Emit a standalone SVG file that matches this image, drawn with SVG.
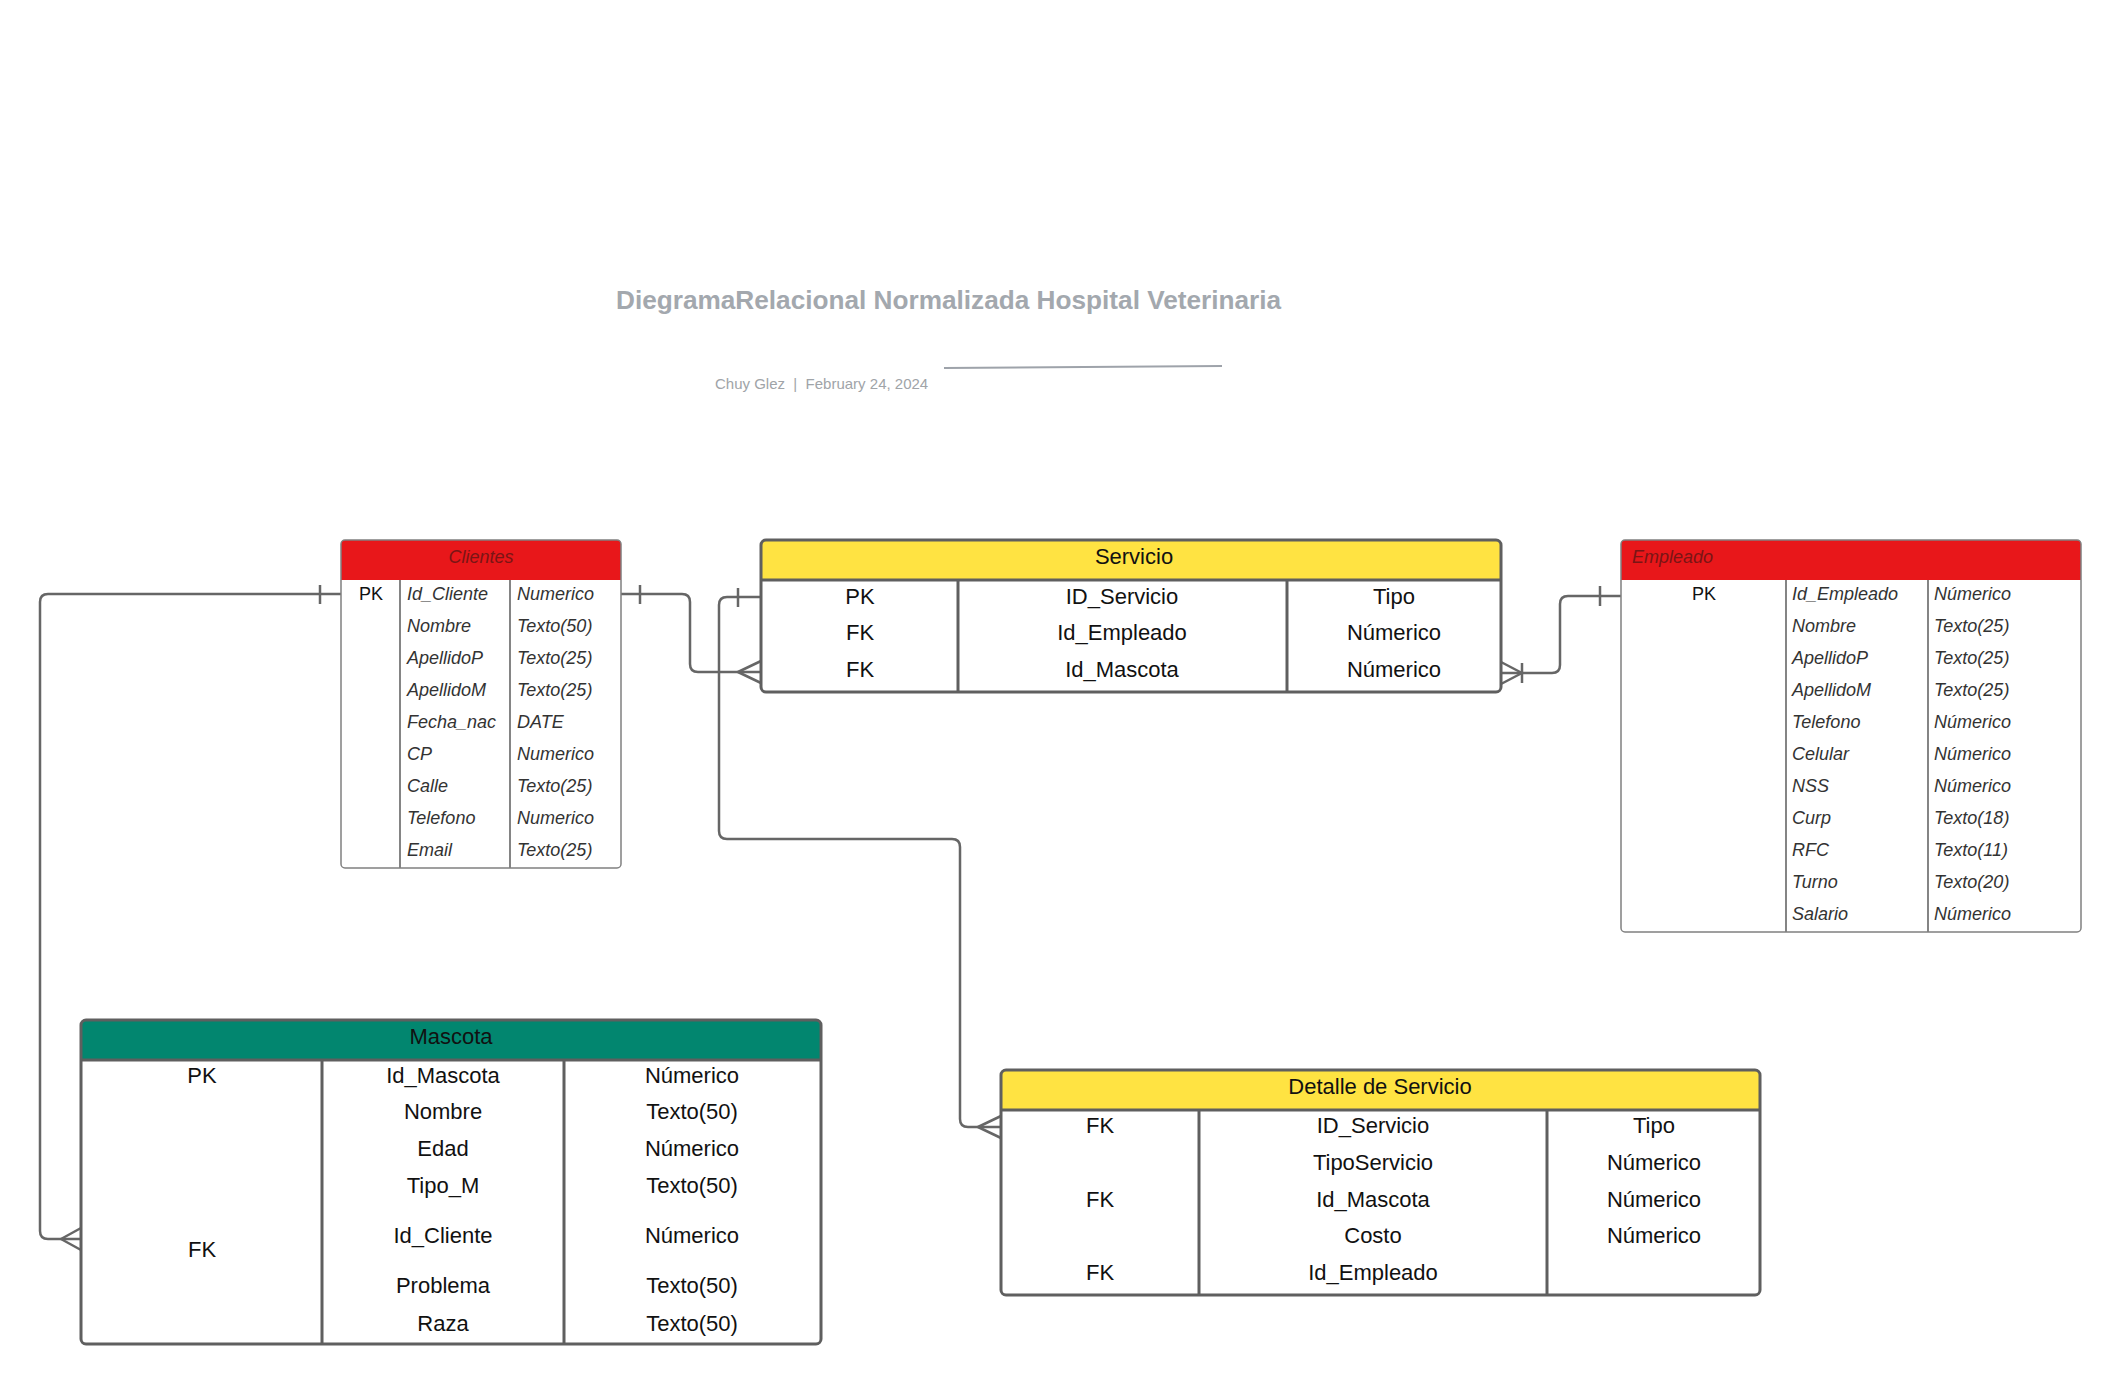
<svg xmlns="http://www.w3.org/2000/svg" width="2122" height="1385" viewBox="0 0 2122 1385">
<style>
text{font-family:"Liberation Sans",Arial,sans-serif}
.title{font-size:26.2px;font-weight:bold;fill:#a3a8ae}
.sub{font-size:15px;fill:#a0a4a8}
.it{font-size:18px;font-style:italic;fill:#333}
.pk{font-size:18px;fill:#111}
.hdr-r{font-size:18px;font-style:italic;fill:#7a1515}
.big{font-size:22px;fill:#111;text-anchor:middle}
.thin{fill:none;stroke:#808080;stroke-width:1.5}
.thindiv{stroke:#333;stroke-width:1.2}
.thick{fill:none;stroke:#5f5f5f;stroke-width:3}
.thickdiv{stroke:#5f5f5f;stroke-width:3}
.red{fill:#e8171a}
.yel{fill:#ffe342}
.grn{fill:#02866f}
.conn{fill:none;stroke:#666;stroke-width:2.5;stroke-linejoin:round}
</style>
<g id="title">
<text class="title" x="616" y="309">DiegramaRelacional Normalizada Hospital Veterinaria</text>
<text class="sub" x="715" y="389" xml:space="preserve">Chuy Glez  |  February 24, 2024</text>
<line x1="944" y1="368" x2="1222" y2="366" stroke="#9ea3aa" stroke-width="2"/>
</g>
<g id="connectors">
<path class="conn" d="M341,594 H48 Q40,594 40,602 V1231 Q40,1239 48,1239 H81"/>
<path class="conn" d="M320,585 V604"/>
<path class="conn" d="M81,1228 L61,1239 L81,1250"/>
<path class="conn" d="M621,594 H682 Q690,594 690,602 V664 Q690,672 698,672 H761"/>
<path class="conn" d="M640,585 V604"/>
<path class="conn" d="M761,661 L738,672 L761,683"/>
<path class="conn" d="M761,597 H727 Q719,597 719,605 V831 Q719,839 727,839 H952 Q960,839 960,847 V1119 Q960,1127 968,1127 H1001"/>
<path class="conn" d="M738,588 V607"/>
<path class="conn" d="M1001,1116 L978,1127 L1001,1138"/>
<path class="conn" d="M1501,673 H1552 Q1560,673 1560,665 V604 Q1560,596 1568,596 H1621"/>
<path class="conn" d="M1600,586 V606"/>
<path class="conn" d="M1501,662 L1522,673 L1501,684"/>
<path class="conn" d="M1522,663 V683"/>
</g>
<g id="clientes">
<rect x="341" y="540" width="280" height="328" rx="4" fill="#fff"/>
<path class="red" d="M341,580 V544 Q341,540 345,540 H617 Q621,540 621,544 V580 Z"/>
<line class="thindiv" x1="400" y1="580" x2="400" y2="868"/>
<line class="thindiv" x1="510" y1="580" x2="510" y2="868"/>
<rect class="thin" x="341" y="540" width="280" height="328" rx="4"/>
<text class="hdr-r" x="481" y="563" text-anchor="middle">Clientes</text>
<text class="pk" x="371" y="600" text-anchor="middle">PK</text>
<text class="it" x="407" y="600">Id_Cliente</text><text class="it" x="517" y="600">Numerico</text>
<text class="it" x="407" y="632">Nombre</text><text class="it" x="517" y="632">Texto(50)</text>
<text class="it" x="407" y="664">ApellidoP</text><text class="it" x="517" y="664">Texto(25)</text>
<text class="it" x="407" y="696">ApellidoM</text><text class="it" x="517" y="696">Texto(25)</text>
<text class="it" x="407" y="728">Fecha_nac</text><text class="it" x="517" y="728">DATE</text>
<text class="it" x="407" y="760">CP</text><text class="it" x="517" y="760">Numerico</text>
<text class="it" x="407" y="792">Calle</text><text class="it" x="517" y="792">Texto(25)</text>
<text class="it" x="407" y="824">Telefono</text><text class="it" x="517" y="824">Numerico</text>
<text class="it" x="407" y="856">Email</text><text class="it" x="517" y="856">Texto(25)</text>
</g>
<g id="empleado">
<rect x="1621" y="540" width="460" height="392" rx="4" fill="#fff"/>
<path class="red" d="M1621,580 V544 Q1621,540 1625,540 H2077 Q2081,540 2081,544 V580 Z"/>
<line class="thindiv" x1="1786" y1="580" x2="1786" y2="932"/>
<line class="thindiv" x1="1928" y1="580" x2="1928" y2="932"/>
<rect class="thin" x="1621" y="540" width="460" height="392" rx="4"/>
<text class="hdr-r" x="1632" y="563">Empleado</text>
<text class="pk" x="1704" y="600" text-anchor="middle">PK</text>
<text class="it" x="1792" y="600">Id_Empleado</text><text class="it" x="1934" y="600">Númerico</text>
<text class="it" x="1792" y="632">Nombre</text><text class="it" x="1934" y="632">Texto(25)</text>
<text class="it" x="1792" y="664">ApellidoP</text><text class="it" x="1934" y="664">Texto(25)</text>
<text class="it" x="1792" y="696">ApellidoM</text><text class="it" x="1934" y="696">Texto(25)</text>
<text class="it" x="1792" y="728">Telefono</text><text class="it" x="1934" y="728">Númerico</text>
<text class="it" x="1792" y="760">Celular</text><text class="it" x="1934" y="760">Númerico</text>
<text class="it" x="1792" y="792">NSS</text><text class="it" x="1934" y="792">Númerico</text>
<text class="it" x="1792" y="824">Curp</text><text class="it" x="1934" y="824">Texto(18)</text>
<text class="it" x="1792" y="856">RFC</text><text class="it" x="1934" y="856">Texto(11)</text>
<text class="it" x="1792" y="888">Turno</text><text class="it" x="1934" y="888">Texto(20)</text>
<text class="it" x="1792" y="920">Salario</text><text class="it" x="1934" y="920">Númerico</text>
</g>
<g id="servicio">
<rect x="761" y="540" width="740" height="152" rx="5" fill="#fff"/>
<path class="yel" d="M761,580 V545 Q761,540 766,540 H1496 Q1501,540 1501,545 V580 Z"/>
<line class="thickdiv" x1="761" y1="580" x2="1501" y2="580"/>
<line class="thickdiv" x1="958" y1="580" x2="958" y2="692"/>
<line class="thickdiv" x1="1287" y1="580" x2="1287" y2="692"/>
<rect class="thick" x="761" y="540" width="740" height="152" rx="5"/>
<text class="big" x="1134" y="564">Servicio</text>
<text class="big" x="860" y="604">PK</text><text class="big" x="1122" y="604">ID_Servicio</text><text class="big" x="1394" y="604">Tipo</text>
<text class="big" x="860" y="640">FK</text><text class="big" x="1122" y="640">Id_Empleado</text><text class="big" x="1394" y="640">Númerico</text>
<text class="big" x="860" y="677">FK</text><text class="big" x="1122" y="677">Id_Mascota</text><text class="big" x="1394" y="677">Númerico</text>
</g>
<g id="mascota">
<rect x="81" y="1020" width="740" height="324" rx="5" fill="#fff"/>
<path class="grn" d="M81,1060 V1025 Q81,1020 86,1020 H816 Q821,1020 821,1025 V1060 Z"/>
<line class="thickdiv" x1="81" y1="1060" x2="821" y2="1060"/>
<line class="thickdiv" x1="322" y1="1060" x2="322" y2="1344"/>
<line class="thickdiv" x1="564" y1="1060" x2="564" y2="1344"/>
<rect class="thick" x="81" y="1020" width="740" height="324" rx="5"/>
<text class="big" x="451" y="1044">Mascota</text>
<text class="big" x="202" y="1083">PK</text><text class="big" x="443" y="1083">Id_Mascota</text><text class="big" x="692" y="1083">Númerico</text>
<text class="big" x="443" y="1119">Nombre</text><text class="big" x="692" y="1119">Texto(50)</text>
<text class="big" x="443" y="1156">Edad</text><text class="big" x="692" y="1156">Númerico</text>
<text class="big" x="443" y="1193">Tipo_M</text><text class="big" x="692" y="1193">Texto(50)</text>
<text class="big" x="202" y="1257">FK</text>
<text class="big" x="443" y="1243">Id_Cliente</text><text class="big" x="692" y="1243">Númerico</text>
<text class="big" x="443" y="1293">Problema</text><text class="big" x="692" y="1293">Texto(50)</text>
<text class="big" x="443" y="1331">Raza</text><text class="big" x="692" y="1331">Texto(50)</text>
</g>
<g id="detalle">
<rect x="1001" y="1070" width="759" height="225" rx="5" fill="#fff"/>
<path class="yel" d="M1001,1110 V1075 Q1001,1070 1006,1070 H1755 Q1760,1070 1760,1075 V1110 Z"/>
<line class="thickdiv" x1="1001" y1="1110" x2="1760" y2="1110"/>
<line class="thickdiv" x1="1199" y1="1110" x2="1199" y2="1295"/>
<line class="thickdiv" x1="1547" y1="1110" x2="1547" y2="1295"/>
<rect class="thick" x="1001" y="1070" width="759" height="225" rx="5"/>
<text class="big" x="1380" y="1094">Detalle de Servicio</text>
<text class="big" x="1100" y="1133">FK</text><text class="big" x="1373" y="1133">ID_Servicio</text><text class="big" x="1654" y="1133">Tipo</text>
<text class="big" x="1373" y="1170">TipoServicio</text><text class="big" x="1654" y="1170">Númerico</text>
<text class="big" x="1100" y="1207">FK</text><text class="big" x="1373" y="1207">Id_Mascota</text><text class="big" x="1654" y="1207">Númerico</text>
<text class="big" x="1373" y="1243">Costo</text><text class="big" x="1654" y="1243">Númerico</text>
<text class="big" x="1100" y="1280">FK</text><text class="big" x="1373" y="1280">Id_Empleado</text>
</g>
</svg>
